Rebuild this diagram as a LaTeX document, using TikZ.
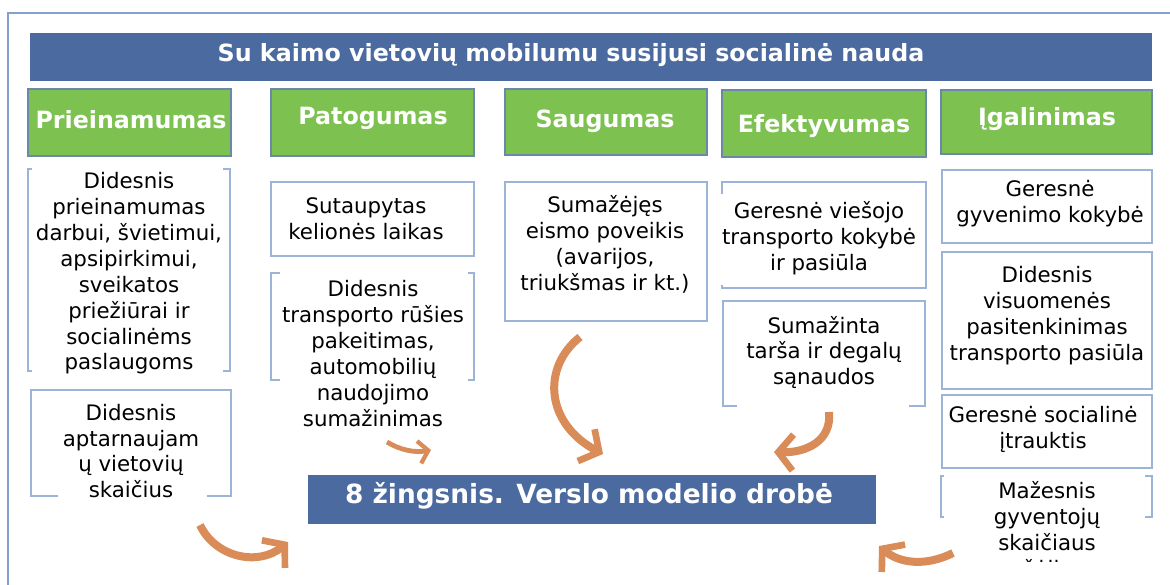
\documentclass[tikz,border=0pt]{standalone}
\usepackage{fontspec}
\setmainfont{DejaVu Sans}
\usetikzlibrary{arrows.meta,fit,calc}
\definecolor{frameblue}{HTML}{82A0D2}
\definecolor{boxline}{HTML}{9BB4D8}
\definecolor{titleblue}{HTML}{4A6AA0}
\definecolor{hgreen}{HTML}{7DC150}
\definecolor{hgreenline}{HTML}{6A88A8}
\definecolor{orangearrow}{HTML}{D98B58}
\begin{document}
\begin{tikzpicture}[x=0.75pt,y=-0.75pt,
  frame/.style={draw=frameblue,line width=1.5pt},
  banner/.style={fill=titleblue,draw=none,inner sep=0pt},
  headbox/.style={fill=hgreen,draw=hgreenline,line width=0.8pt,inner sep=0pt},
  wbox/.style={draw=boxline,line width=0.9pt,fill=white,inner sep=0pt},
  cover/.style={fill=white,draw=none},
  btxt/.style={text=white,font=\fontsize{17.8}{21}\selectfont\bfseries,inner sep=0pt},
  bigtxt/.style={text=white,font=\fontsize{19.8}{23}\selectfont\bfseries,inner sep=0pt},
  ntxt/.style={text=black,font=\fontsize{16}{19.4}\selectfont,align=center,inner sep=0pt},
  curv/.style={draw=orangearrow,line width=6pt,
    -{Straight Barb[length=11pt,width=27pt,line width=5pt]}},
  curvsmall/.style={draw=orangearrow,line width=3.6pt,
    -{Straight Barb[length=7pt,width=17pt,line width=3.2pt]}},
]
\useasboundingbox (0,0) rectangle (1170,585);

% outer frame
\coordinate (frTR) at (1185,13);
\coordinate (frTL) at (8,13);
\coordinate (frBL) at (8,600);
\draw[frame] (frTR) -- (frTL) -- (frBL);

% title banner
\node[banner, fit={(30,33)(1152,81)}] (title) {};
\node[btxt] (titletxt) at (571,55.5) {Su kaimo vietovių mobilumu susijusi socialinė nauda};

% green headers
\node[headbox, fit={(28,89)(231,156)}] (h1) {};
\node[headbox, fit={(271,89)(474,156)}] (h2) {};
\node[headbox, fit={(505,89)(707,155)}] (h3) {};
\node[headbox, fit={(722,90)(926,157)}] (h4) {};
\node[headbox, fit={(941,90)(1152,154)}] (h5) {};
\node[btxt] (h1t) at (131,119.5) {Prieinamumas};
\node[btxt] (h2t) at (373,118.5) {Patogumas};
\node[btxt] (h3t) at (605,121.5) {Saugumas};
\node[btxt] (h4t) at (824,126.5) {Efektyvumas};
\node[btxt] (h5t) at (1047,119.5) {Įgalinimas};

% white boxes
\node[wbox, fit={(28,169)(230,371)}] (a1) {};
\node[wbox, fit={(31,390)(231,496)}] (a2) {};
\node[wbox, fit={(271,182)(474,256)}] (b1) {};
\node[wbox, fit={(271,273)(474,380)}] (b2) {};
\node[wbox, fit={(505,182)(707,321)}] (c1) {};
\node[wbox, fit={(722,182)(926,288)}] (d1) {};
\node[wbox, fit={(723,301)(925,406)}] (d2) {};
\node[wbox, fit={(942,170)(1152,243)}] (e1) {};
\node[wbox, fit={(942,252)(1152,389)}] (e2) {};
\node[wbox, fit={(942,395)(1152,468)}] (e3) {};
\node[wbox, fit={(941,476)(1152,517)}] (e4) {};

% white text backgrounds hiding parts of the borders
\path[cover] (32,165) rectangle (223,375);
\path[cover] (58,492) rectangle (207,500);
\path[cover] (280,269) rectangle (468,384);
\path[cover] (718,194) rectangle (726,285);
\path[cover] (737,402) rectangle (909,410);
\path[cover] (944,472) rectangle (1145,521);

% texts
\node[ntxt] (a1t) at (129,273.5) {Didesnis\\prieinamumas\\darbui, švietimui,\\apsipirkimui,\\sveikatos\\priežiūrai ir\\socialinėms\\paslaugoms};
\node[ntxt] (a2t) at (131,451) {Didesnis\\aptarnaujam\\ų vietovių\\skaičius};
\node[ntxt] (b1t) at (366,218.5) {Sutaupytas\\kelionės laikas};
\node[ntxt] (b2t) at (373,353.5) {Didesnis\\transporto rūšies\\pakeitimas,\\automobilių\\naudojimo\\sumažinimas};
\node[ntxt] (c1t) at (605,244.5) {Sumažėjęs\\eismo poveikis\\(avarijos,\\triukšmas ir kt.)};
\node[ntxt] (d1t) at (819,238.5) {Geresnė viešojo\\transporto kokybė\\ir pasiūla};
\node[ntxt] (d2t) at (824,352.5) {Sumažinta\\tarša ir degalų\\sąnaudos};
\node[ntxt] (e1t) at (1050,203.5) {Geresnė\\gyvenimo kokybė};
\node[ntxt] (e2t) at (1047,315.5) {Didesnis\\visuomenės\\pasitenkinimas\\transporto pasiūla};
\node[ntxt] (e3t) at (1043,429.5) {Geresnė socialinė\\įtrauktis};
\begin{scope}
\clip (930,470) rectangle (1165,561);
\node[ntxt] (e4t) at (1047,531) {Mažesnis\\gyventojų\\skaičiaus\\mažėjimas};
\end{scope}

% step banner
\node[banner, fit={(308,475)(876,524)}] (step8) {};
\node[bigtxt] (step8t) at (589,496) {8 žingsnis. Verslo modelio drobė};

% curved arrows
\coordinate (ar1s) at (200,525);
\coordinate (ar1e) at (288,542);
\draw[curv] (ar1s) .. controls (215,557) and (258,567) .. (ar1e);

\coordinate (ar2s) at (387,442);
\coordinate (ar2e) at (431,450);
\draw[curvsmall] (ar2s) .. controls (400,450) and (415,453) .. (ar2e);

\coordinate (ar3s) at (580,337);
\coordinate (ar3e) at (603,454);
\draw[curv] (ar3s) .. controls (541,368) and (546,424) .. (ar3e);

\coordinate (ar4s) at (829,412);
\coordinate (ar4e) at (774,452);
\draw[curv] (ar4s) .. controls (832,441) and (806,453) .. (ar4e);

\coordinate (ar5s) at (953,553);
\coordinate (ar5e) at (879,546);
\draw[curv] (ar5s) .. controls (925,567) and (899,563) .. (ar5e);
\end{tikzpicture}
\end{document}
